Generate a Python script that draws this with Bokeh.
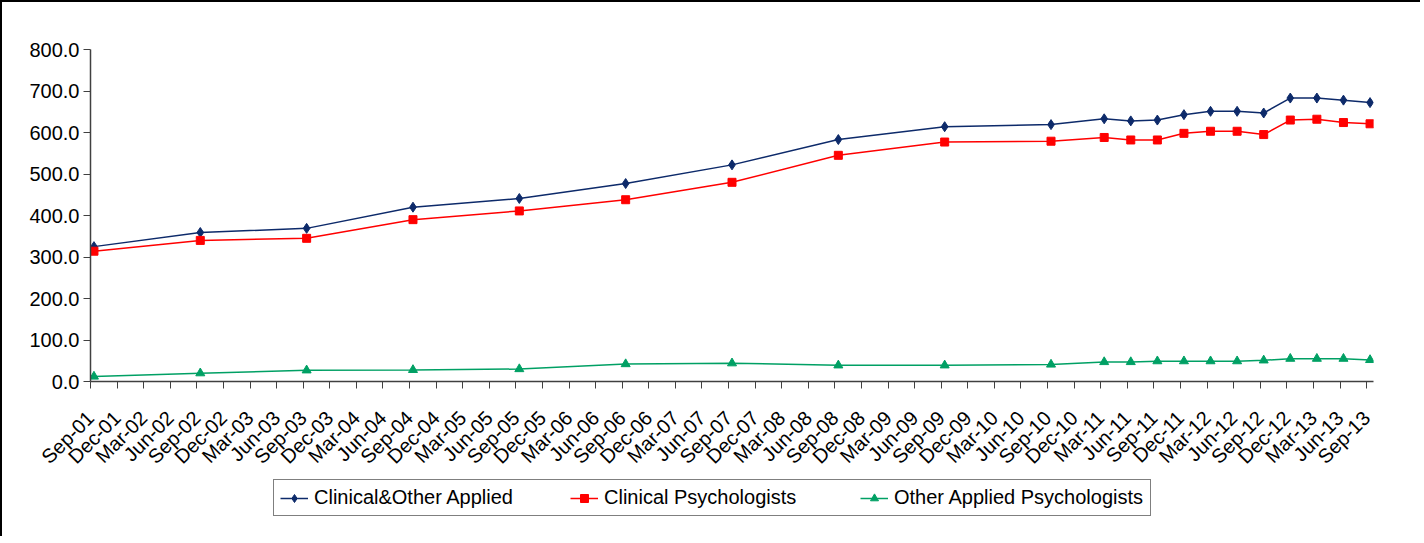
import math
from bokeh.plotting import figure
from bokeh.layouts import column
from bokeh.models import Range1d, FixedTicker, PrintfTickFormatter, Legend, LegendItem
from bokeh.embed import file_html
from bokeh.resources import INLINE

# ---- data ----
tick_labels = []
for yr in range(1, 14):
    for m in ["Mar", "Jun", "Sep", "Dec"]:
        tick_labels.append(f"{m}-{yr:02d}")
tick_labels = tick_labels[2:-1]  # Sep-01 .. Sep-13

data_quarters = ["Sep-01", "Sep-02", "Sep-03", "Sep-04", "Sep-05", "Sep-06", "Sep-07",
                 "Sep-08", "Sep-09", "Sep-10", "Mar-11", "Jun-11", "Sep-11", "Dec-11",
                 "Mar-12", "Jun-12", "Sep-12", "Dec-12", "Mar-13", "Jun-13", "Sep-13"]
clin_other = [325, 359, 369, 420, 441, 477, 522, 583, 614, 619, 633, 628, 630, 643,
              651, 651, 647, 683, 683, 678, 672]
clinical = [314, 340, 345, 390, 411, 438, 480, 545, 577, 579, 588, 582, 582, 598,
            603, 603, 595, 630, 632, 624, 621]
other = [12, 20, 27, 28, 30, 42, 44, 39, 39, 41, 47, 47, 49, 49,
         49, 49, 51, 55, 55, 55, 52]
series_names = ["Clinical&Other Applied", "Clinical Psychologists", "Other Applied Psychologists"]
y_ticks = [0, 100, 200, 300, 400, 500, 600, 700, 800]

# ---- style ----
FONT = "Liberation Sans"
FS = "20px"
DATA_OFFSET = 0.13
NAVY = "#0d2a6a"
RED = "#ff0000"
GREEN = "#00a064"
series = [
    (clin_other, NAVY, "diamond", 10),
    (clinical, RED, "square", 8),
    (other, GREEN, "triangle", 9),
]

xs = [tick_labels.index(q) + DATA_OFFSET for q in data_quarters]
x_rng = Range1d(0, len(tick_labels) - 1 + 0.26)

# ---- main chart ----
p = figure(width=1420, height=476, output_backend="svg", toolbar_location=None,
           x_range=x_rng, y_range=Range1d(0, 800),
           min_border_left=88, min_border_right=49, min_border_top=47, min_border_bottom=97)
p.styles = {"border-left": "2px solid #000000", "border-top": "2px solid #000000"}
p.outline_line_color = None
p.xgrid.grid_line_color = None
p.ygrid.grid_line_color = None
p.background_fill_color = "white"
p.border_fill_color = "white"

for vals, col, mk, sz in series:
    p.line(xs, vals, line_color=col, line_width=1.5)
    p.scatter(xs, vals, marker=mk, size=sz, fill_color=col, line_color=col)

xa = p.xaxis[0]
xa.ticker = FixedTicker(ticks=list(range(len(tick_labels))))
xa.major_label_overrides = {i: lab for i, lab in enumerate(tick_labels)}
xa.major_label_orientation = math.pi / 4
xa.minor_tick_line_color = None
xa.major_tick_in = 0
xa.major_tick_out = 7
xa.major_label_standoff = 26
ya = p.yaxis[0]
ya.ticker = FixedTicker(ticks=y_ticks)
ya.formatter = PrintfTickFormatter(format="%.1f")
ya.minor_tick_line_color = None
ya.major_tick_in = 0
ya.major_tick_out = 7
ya.major_label_standoff = 4
for ax in (xa, ya):
    ax.axis_line_color = "#404040"
    ax.major_tick_line_color = "#404040"
    ax.axis_line_width = 1.5
    ax.major_label_text_font = FONT
    ax.major_label_text_font_size = FS
    ax.major_label_text_color = "black"

# ---- legend strip (same series, kept out of view; only the legend shows) ----
p2 = figure(width=1420, height=60, output_backend="svg", toolbar_location=None,
            x_range=Range1d(0, len(tick_labels)), y_range=Range1d(-2000, -1000),
            x_axis_location=None, y_axis_location=None,
            min_border_left=0, min_border_right=0, min_border_top=0, min_border_bottom=0)
p2.styles = {"border-left": "2px solid #000000"}
p2.outline_line_color = None
p2.grid.visible = False
p2.background_fill_color = "white"
p2.border_fill_color = "white"

items = []
for name, (vals, col, mk, sz) in zip(series_names, series):
    rl = p2.line(xs, vals, line_color=col, line_width=1.5)
    rm = p2.scatter(xs, vals, marker=mk, size=sz, fill_color=col, line_color=col)
    items.append(LegendItem(label=name, renderers=[rl, rm]))

legend = Legend(items=items, orientation="horizontal", location=(183, 20))
legend.label_text_font = FONT
legend.label_text_font_size = FS
legend.label_text_color = "black"
legend.border_line_color = "black"
legend.border_line_width = 1
legend.background_fill_color = "white"
legend.background_fill_alpha = 1
legend.padding = 6
legend.spacing = 6
legend.glyph_width = 28
legend.label_standoff = 6
legend.label_width = 250
legend.margin = 0
p2.add_layout(legend, "center")

layout = column(p, p2, spacing=0)
open("out.html", "w").write(file_html(layout, INLINE))
